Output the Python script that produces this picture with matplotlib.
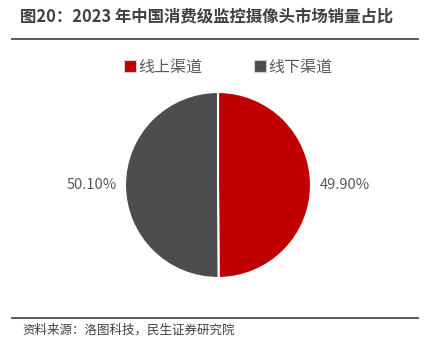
import matplotlib

matplotlib.use("Agg")
import matplotlib.pyplot as plt  # noqa: E402
from matplotlib.lines import Line2D  # noqa: E402

plt.rcParams["font.family"] = ["Noto Sans CJK SC", "DejaVu Sans"]

channels = ["线上渠道", "线下渠道"]
shares = [49.90, 50.10]
colors = ["#C00000", "#4D4D4F"]

title = "图20：2023 年中国消费级监控摄像头市场销量占比"
source = "资料来源：洛图科技，民生证券研究院"

W, H = 438, 351
fig = plt.figure(figsize=(W / 100, H / 100), dpi=100)

# title and rules
fig.text(20 / W, 1 - 16 / H, title, fontsize=11.8, fontweight="bold",
         color="#404040", va="center", ha="left")
fig.add_artist(Line2D([12 / W, 418 / W], [1 - 39 / H] * 2, color="#5a5a5a", lw=1.4))
fig.add_artist(Line2D([12 / W, 418 / W], [1 - 318 / H] * 2, color="#5a5a5a", lw=1.4))
fig.text(22 / W, 1 - 330 / H, source, fontsize=9, color="#404040",
         va="center", ha="left")

# pie
cx, cy, r = 218, 185, 93
ax = fig.add_axes([(cx - r) / W, 1 - (cy + r) / H, 2 * r / W, 2 * r / H])
labels = [f"{v:.2f}%" for v in shares]
wedges, texts = ax.pie(
    shares,
    colors=colors,
    startangle=90,
    counterclock=False,
    labels=labels,
    labeldistance=1.09,
    wedgeprops=dict(edgecolor="white", linewidth=1.5),
    textprops=dict(fontsize=10.5, color="#595959"),
)
ax.set_xlim(-1, 1)
ax.set_ylim(-1, 1)
ax.set_aspect("equal")
ax.axis("off")

# legend
handles = [
    Line2D([], [], marker="s", ls="none", markersize=8, markerfacecolor=c,
           markeredgecolor="#d0d0d0", markeredgewidth=0.8)
    for c in colors
]
fig.legend(handles, channels, loc="center", bbox_to_anchor=(228 / W, 1 - 67 / H),
           ncol=2, frameon=False, fontsize=11.5, handletextpad=0.1,
           columnspacing=3.2, labelcolor="#595959", handlelength=0.8)

fig.savefig("out.png", dpi=100, facecolor="white")
